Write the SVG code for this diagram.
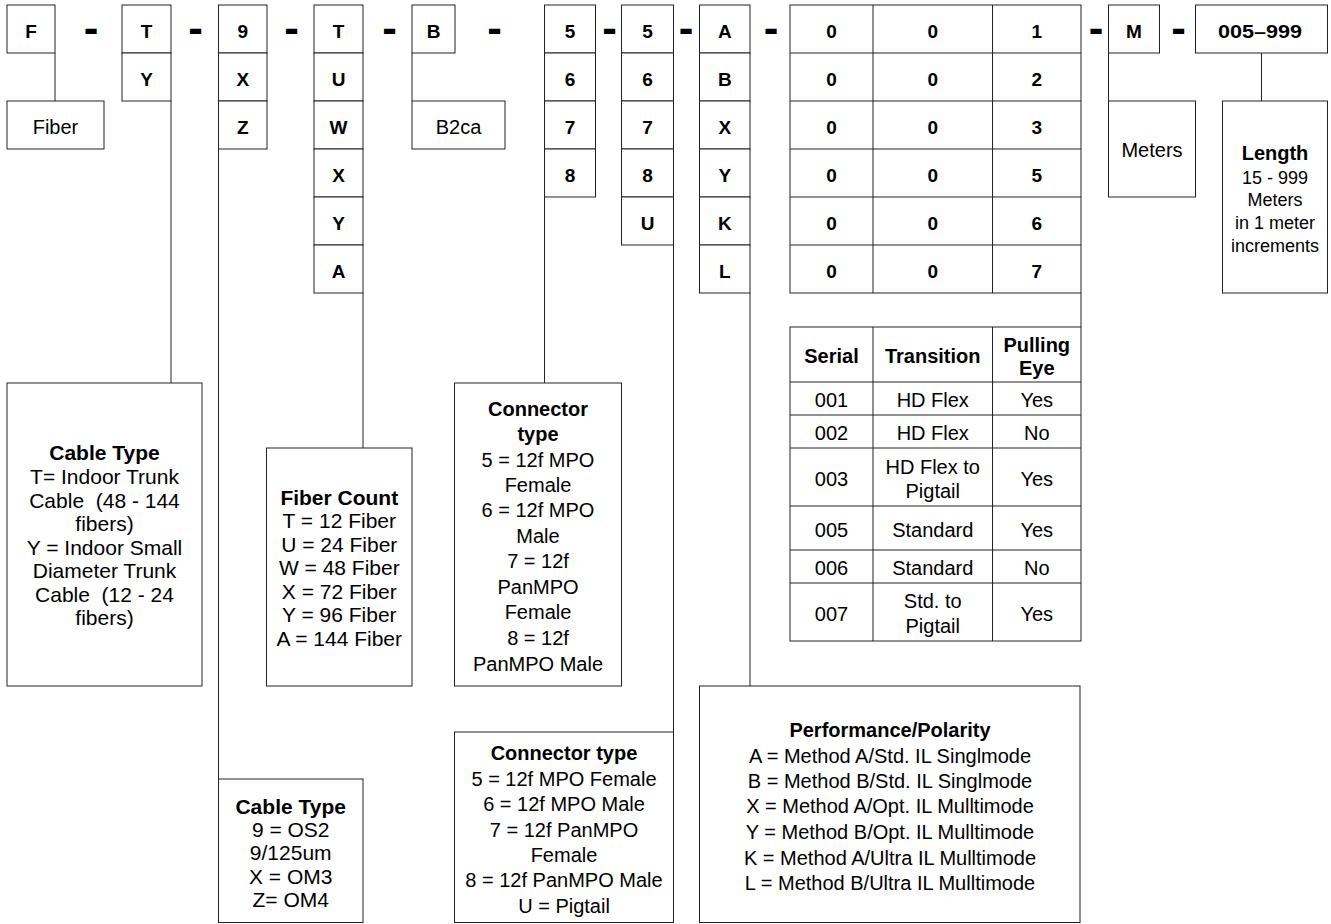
<svg xmlns="http://www.w3.org/2000/svg" width="1331" height="924" viewBox="0 0 1331 924">
<style>
.b{fill:#fff;stroke:#222;stroke-width:1}
.c{fill:none;stroke:#222;stroke-width:1}
text{font-family:"Liberation Sans",Arial,Helvetica,sans-serif;fill:#000;text-anchor:middle}
.code{font-size:19px;font-weight:bold}
.d{font-size:44px;font-weight:bold}
.t{font-size:20px}
.tb{font-size:20px;font-weight:bold}
.l{font-size:21px}
.lb{font-size:21px;font-weight:bold}
.s{font-size:18px}
</style>
<rect width="1331" height="924" fill="#fff"/>
<g id="connectors">
<path class="c" d="M55 53V101"/>
<path class="c" d="M171 101V383"/>
<path class="c" d="M218.5 149V779"/>
<path class="c" d="M363 293V448"/>
<path class="c" d="M412 53V101"/>
<path class="c" d="M544.5 197V383"/>
<path class="c" d="M673.5 245V732"/>
<path class="c" d="M750 293V686"/>
<path class="c" d="M1081 293V327"/>
<path class="c" d="M1108.5 53V101"/>
<path class="c" d="M1261.5 53V101"/>
</g>
<g id="dashes">
<text class="d" x="91" y="43">-</text>
<text class="d" x="195.5" y="43">-</text>
<text class="d" x="291.5" y="43">-</text>
<text class="d" x="389.5" y="43">-</text>
<text class="d" x="494.5" y="43">-</text>
<text class="d" x="609.5" y="43">-</text>
<text class="d" x="686" y="43">-</text>
<text class="d" x="771" y="43">-</text>
<text class="d" x="1096" y="43">-</text>
<text class="d" x="1178.5" y="43">-</text>
</g>
<g id="col-F">
<rect class="b" x="7" y="5" width="48" height="48"/>
<text class="code" x="31" y="37.5">F</text>
</g>
<g id="col-T">
<rect class="b" x="122" y="5" width="49" height="48"/>
<rect class="b" x="122" y="53" width="49" height="48"/>
<text class="code" x="146.5" y="37.5">T</text>
<text class="code" x="146.5" y="85.5">Y</text>
</g>
<g id="col-9">
<rect class="b" x="218.5" y="5" width="48.5" height="48"/>
<rect class="b" x="218.5" y="53" width="48.5" height="48"/>
<rect class="b" x="218.5" y="101" width="48.5" height="48"/>
<text class="code" x="242.75" y="37.5">9</text>
<text class="code" x="242.75" y="85.5">X</text>
<text class="code" x="242.75" y="133.5">Z</text>
</g>
<g id="col-fibercount">
<rect class="b" x="314" y="5" width="49" height="48"/>
<rect class="b" x="314" y="53" width="49" height="48"/>
<rect class="b" x="314" y="101" width="49" height="48"/>
<rect class="b" x="314" y="149" width="49" height="48"/>
<rect class="b" x="314" y="197" width="49" height="48"/>
<rect class="b" x="314" y="245" width="49" height="48"/>
<text class="code" x="338.5" y="37.5">T</text>
<text class="code" x="338.5" y="85.5">U</text>
<text class="code" x="338.5" y="133.5">W</text>
<text class="code" x="338.5" y="181.5">X</text>
<text class="code" x="338.5" y="229.5">Y</text>
<text class="code" x="338.5" y="277.5">A</text>
</g>
<g id="col-B">
<rect class="b" x="412" y="5" width="43" height="48"/>
<text class="code" x="433.5" y="37.5">B</text>
</g>
<g id="col-5a">
<rect class="b" x="544.5" y="5" width="51" height="48"/>
<rect class="b" x="544.5" y="53" width="51" height="48"/>
<rect class="b" x="544.5" y="101" width="51" height="48"/>
<rect class="b" x="544.5" y="149" width="51" height="48"/>
<text class="code" x="570" y="37.5">5</text>
<text class="code" x="570" y="85.5">6</text>
<text class="code" x="570" y="133.5">7</text>
<text class="code" x="570" y="181.5">8</text>
</g>
<g id="col-5b">
<rect class="b" x="621.5" y="5" width="52" height="48"/>
<rect class="b" x="621.5" y="53" width="52" height="48"/>
<rect class="b" x="621.5" y="101" width="52" height="48"/>
<rect class="b" x="621.5" y="149" width="52" height="48"/>
<rect class="b" x="621.5" y="197" width="52" height="48"/>
<text class="code" x="647.5" y="37.5">5</text>
<text class="code" x="647.5" y="85.5">6</text>
<text class="code" x="647.5" y="133.5">7</text>
<text class="code" x="647.5" y="181.5">8</text>
<text class="code" x="647.5" y="229.5">U</text>
</g>
<g id="col-A">
<rect class="b" x="699.5" y="5" width="50.5" height="48"/>
<rect class="b" x="699.5" y="53" width="50.5" height="48"/>
<rect class="b" x="699.5" y="101" width="50.5" height="48"/>
<rect class="b" x="699.5" y="149" width="50.5" height="48"/>
<rect class="b" x="699.5" y="197" width="50.5" height="48"/>
<rect class="b" x="699.5" y="245" width="50.5" height="48"/>
<text class="code" x="724.75" y="37.5">A</text>
<text class="code" x="724.75" y="85.5">B</text>
<text class="code" x="724.75" y="133.5">X</text>
<text class="code" x="724.75" y="181.5">Y</text>
<text class="code" x="724.75" y="229.5">K</text>
<text class="code" x="724.75" y="277.5">L</text>
</g>
<g id="col-serial">
<rect class="b" x="790" y="5" width="291" height="288"/>
<path class="c" d="M873 5V293M992.5 5V293M790 53H1081M790 101H1081M790 149H1081M790 197H1081M790 245H1081"/>
<text class="code" x="831.5" y="37.5">0</text><text class="code" x="932.75" y="37.5">0</text><text class="code" x="1036.75" y="37.5">1</text>
<text class="code" x="831.5" y="85.5">0</text><text class="code" x="932.75" y="85.5">0</text><text class="code" x="1036.75" y="85.5">2</text>
<text class="code" x="831.5" y="133.5">0</text><text class="code" x="932.75" y="133.5">0</text><text class="code" x="1036.75" y="133.5">3</text>
<text class="code" x="831.5" y="181.5">0</text><text class="code" x="932.75" y="181.5">0</text><text class="code" x="1036.75" y="181.5">5</text>
<text class="code" x="831.5" y="229.5">0</text><text class="code" x="932.75" y="229.5">0</text><text class="code" x="1036.75" y="229.5">6</text>
<text class="code" x="831.5" y="277.5">0</text><text class="code" x="932.75" y="277.5">0</text><text class="code" x="1036.75" y="277.5">7</text>
</g>
<g id="col-M">
<rect class="b" x="1108.5" y="5" width="51" height="48"/>
<text class="code" x="1134" y="37.5">M</text>
</g>
<g id="col-length">
<rect class="b" x="1195.5" y="5" width="132" height="48"/>
<text class="code" x="1260" y="37.5" textLength="84" lengthAdjust="spacingAndGlyphs">005–999</text>
</g>
<g id="fiber">
<rect class="b" x="7" y="101" width="97" height="48"/>
<text class="t" x="55.5" y="134">Fiber</text>
</g>
<g id="b2ca">
<rect class="b" x="412" y="101" width="93" height="48"/>
<text class="t" x="458.5" y="134">B2ca</text>
</g>
<g id="meters">
<rect class="b" x="1108.5" y="101" width="87" height="96"/>
<text class="t" x="1152" y="157">Meters</text>
</g>
<g id="length">
<rect class="b" x="1222.5" y="101" width="105" height="192"/>
<text class="tb" x="1275" y="160">Length</text>
<text class="s" x="1275" y="183.5">15 - 999</text>
<text class="s" x="1275" y="206">Meters</text>
<text class="s" x="1275" y="229">in 1 meter</text>
<text class="s" x="1275" y="251.5">increments</text>
</g>
<g id="cable-type-1">
<rect class="b" x="7" y="383" width="195" height="303"/>
<text xml:space="preserve"><tspan class="lb" x="104.5" y="460">Cable Type</tspan><tspan class="l" x="104.5" y="484">T= Indoor Trunk</tspan><tspan class="l" x="104.5" y="507.5">Cable  (48 - 144</tspan><tspan class="l" x="104.5" y="531">fibers)</tspan><tspan class="l" x="104.5" y="554.5">Y = Indoor Small</tspan><tspan class="l" x="104.5" y="578">Diameter Trunk</tspan><tspan class="l" x="104.5" y="601.5">Cable  (12 - 24</tspan><tspan class="l" x="104.5" y="625">fibers)</tspan></text>
</g>
<g id="fiber-count">
<rect class="b" x="266.5" y="448" width="145.5" height="238"/>
<text><tspan class="lb" x="339.3" y="505">Fiber Count</tspan><tspan class="l" x="339.3" y="528">T = 12 Fiber</tspan><tspan class="l" x="339.3" y="552">U = 24 Fiber</tspan><tspan class="l" x="339.3" y="575">W = 48 Fiber</tspan><tspan class="l" x="339.3" y="599">X = 72 Fiber</tspan><tspan class="l" x="339.3" y="622">Y = 96 Fiber</tspan><tspan class="l" x="339.3" y="646">A = 144 Fiber</tspan></text>
</g>
<g id="connector-type-1">
<rect class="b" x="454.5" y="383" width="167" height="303"/>
<text><tspan class="tb" x="538" y="415.5">Connector</tspan><tspan class="tb" x="538" y="440.5">type</tspan><tspan class="t" x="538" y="466.5">5 = 12f MPO</tspan><tspan class="t" x="538" y="492">Female</tspan><tspan class="t" x="538" y="517">6 = 12f MPO</tspan><tspan class="t" x="538" y="543">Male</tspan><tspan class="t" x="538" y="568">7 = 12f</tspan><tspan class="t" x="538" y="593.5">PanMPO</tspan><tspan class="t" x="538" y="619">Female</tspan><tspan class="t" x="538" y="645">8 = 12f</tspan><tspan class="t" x="538" y="671">PanMPO Male</tspan></text>
</g>
<g id="serial-table">
<rect class="b" x="790" y="327" width="291" height="314"/>
<path class="c" d="M873 327V641M992.5 327V641M790 382H1081M790 415H1081M790 448H1081M790 506H1081M790 550H1081M790 583H1081"/>
<text class="tb" x="831.5" y="363">Serial</text>
<text class="tb" x="932.75" y="363">Transition</text>
<text class="tb" x="1036.75" y="352">Pulling</text>
<text class="tb" x="1036.75" y="375">Eye</text>
<text class="t" x="831.5" y="407">001</text><text class="t" x="932.75" y="407">HD Flex</text><text class="t" x="1036.75" y="407">Yes</text>
<text class="t" x="831.5" y="440">002</text><text class="t" x="932.75" y="440">HD Flex</text><text class="t" x="1036.75" y="440">No</text>
<text class="t" x="831.5" y="485.5">003</text><text class="t" x="932.75" y="473.5">HD Flex to</text><text class="t" x="932.75" y="498">Pigtail</text><text class="t" x="1036.75" y="485.5">Yes</text>
<text class="t" x="831.5" y="536.5">005</text><text class="t" x="932.75" y="536.5">Standard</text><text class="t" x="1036.75" y="536.5">Yes</text>
<text class="t" x="831.5" y="575">006</text><text class="t" x="932.75" y="575">Standard</text><text class="t" x="1036.75" y="575">No</text>
<text class="t" x="831.5" y="620.5">007</text><text class="t" x="932.75" y="608">Std. to</text><text class="t" x="932.75" y="633">Pigtail</text><text class="t" x="1036.75" y="620.5">Yes</text>
</g>
<g id="cable-type-2">
<rect class="b" x="218.5" y="779" width="144.5" height="143.5"/>
<text><tspan class="lb" x="290.7" y="814">Cable Type</tspan><tspan class="l" x="290.7" y="837">9 = OS2</tspan><tspan class="l" x="290.7" y="860">9/125um</tspan><tspan class="l" x="290.7" y="884">X = OM3</tspan><tspan class="l" x="290.7" y="907">Z= OM4</tspan></text>
</g>
<g id="connector-type-2">
<rect class="b" x="454.5" y="732" width="219" height="190.5"/>
<text><tspan class="tb" x="564" y="760">Connector type</tspan><tspan class="t" x="564" y="786">5 = 12f MPO Female</tspan><tspan class="t" x="564" y="810.5">6 = 12f MPO Male</tspan><tspan class="t" x="564" y="836.5">7 = 12f PanMPO</tspan><tspan class="t" x="564" y="861.5">Female</tspan><tspan class="t" x="564" y="887">8 = 12f PanMPO Male</tspan><tspan class="t" x="564" y="913">U = Pigtail</tspan></text>
</g>
<g id="performance">
<rect class="b" x="699.5" y="686" width="380.5" height="236.5"/>
<text><tspan class="tb" x="890" y="737">Performance/Polarity</tspan><tspan class="t" x="890" y="763">A = Method A/Std. IL Singlmode</tspan><tspan class="t" x="890" y="788">B = Method B/Std. IL Singlmode</tspan><tspan class="t" x="890" y="813">X = Method A/Opt. IL Mulltimode</tspan><tspan class="t" x="890" y="839">Y = Method B/Opt. IL Mulltimode</tspan><tspan class="t" x="890" y="865">K = Method A/Ultra IL Mulltimode</tspan><tspan class="t" x="890" y="890">L = Method B/Ultra IL Mulltimode</tspan></text>
</g>
</svg>
